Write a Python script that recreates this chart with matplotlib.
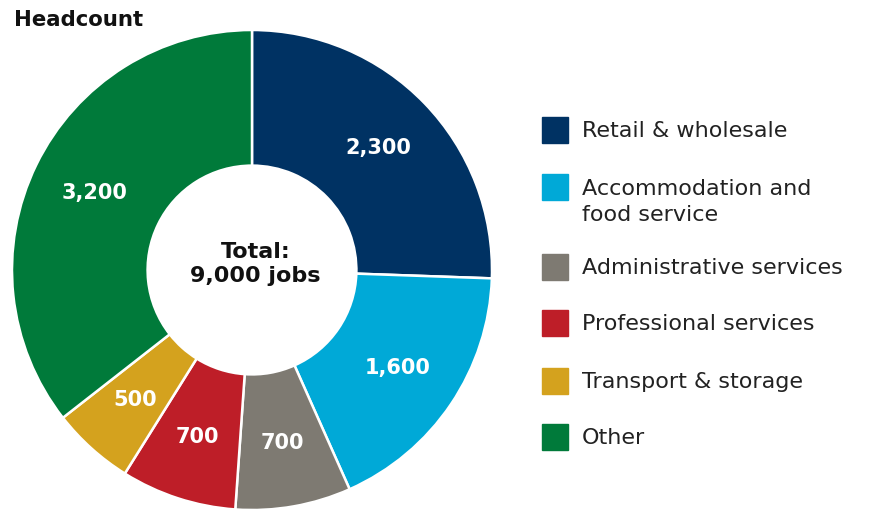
import matplotlib
matplotlib.use("Agg")
import matplotlib.pyplot as plt
from matplotlib.patches import Rectangle
import numpy as np

plt.rcParams['font.family'] = ['DejaVu Sans']

sectors = ["Retail & wholesale", "Accommodation and\nfood service", "Administrative services",
           "Professional services", "Transport & storage", "Other"]
jobs = [2300, 1600, 700, 700, 500, 3200]
labels = ["2,300", "1,600", "700", "700", "500", "3,200"]
colors = ["#003263", "#00A9D7", "#7E7A72", "#BE1E28", "#D4A21E", "#007A3A"]
total_text = "Total:\n9,000 jobs"

W, H = 871, 512
fig = plt.figure(figsize=(W / 100, H / 100), dpi=100)

# donut: centre (252,270) px, outer radius 240 px
cx, cy, r = 252, 270, 240
ax = fig.add_axes([(cx - r) / W, (H - cy - r) / H, 2 * r / W, 2 * r / H])
wedges, _ = ax.pie(jobs, colors=colors, startangle=90, counterclock=False,
                   radius=1, wedgeprops=dict(width=0.565, edgecolor="white", linewidth=1.8))
ax.set_xlim(-1, 1)
ax.set_ylim(-1, 1)
ax.set_aspect("equal")

for w, lab in zip(wedges, labels):
    a = np.deg2rad((w.theta1 + w.theta2) / 2)
    ax.text(0.73 * np.cos(a), 0.73 * np.sin(a), lab, color="white",
            fontsize=15, fontweight="bold", ha="center", va="center")

ax.text(0.015, 0.025, total_text, ha="center", va="center", fontsize=16,
        fontweight="bold", color="#111111", linespacing=1.3)

fig.text(14 / W, 1 - 20 / H, "Headcount", fontsize=15.3, fontweight="bold",
         color="#111111", va="center", ha="left")

# legend
row_y = [130, 187, 267, 323, 381, 437]
for y, name, c in zip(row_y, sectors, colors):
    fig.add_artist(Rectangle((542 / W, 1 - (y + 13) / H), 26 / W, 26 / H,
                             transform=fig.transFigure, color=c))
    ty = y + 15 if "\n" in name else y + 1
    fig.text(582 / W, 1 - ty / H, name, fontsize=16, color="#222222",
             va="center", ha="left", linespacing=1.38)

fig.savefig("out.png", dpi=100)
